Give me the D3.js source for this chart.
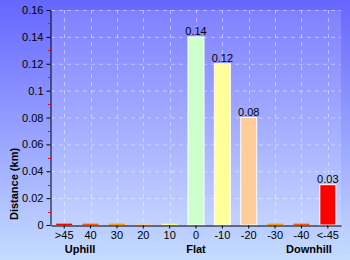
<!DOCTYPE html>
<html><head><meta charset="utf-8">
<script src="https://cdn.jsdelivr.net/npm/d3@7"></script>
<style>html,body{margin:0;padding:0;background:#fff}svg{display:block}</style>
</head><body>
<script>
const categories = [">45","40","30","20","10","0","-10","-20","-30","-40","<-45"];
const values = [0.001,0.001,0.001,0.001,0.001,0.14,0.12,0.08,0.001,0.001,0.03];
const barColors = ["#ff0000","#ff5500","#ff9900","#ffcc99","#ffff99","#ccffcc","#ffff99","#ffcc99","#ff9900","#ff5500","#ff0000"];
const valueLabels = ["","","","","","0.14","0.12","0.08","","","0.03"];
const yTicks = [0,0.02,0.04,0.06,0.08,0.1,0.12,0.14,0.16];
const groupLabels = [{text:"Uphill", x:80},{text:"Flat", x:196},{text:"Downhill", x:309}];

const W=350,H=260, L=51, R=341, T=10, B=225;
const svg=d3.select("body").append("svg").attr("width",W).attr("height",H);
const defs=svg.append("defs");
const g1=defs.append("linearGradient").attr("id","bg").attr("x1",0).attr("y1",0).attr("x2",0).attr("y2",1);
g1.append("stop").attr("offset","0%").attr("stop-color","#6666ff");
g1.append("stop").attr("offset","100%").attr("stop-color","#c6dcff");
svg.append("rect").attr("width",W).attr("height",H).attr("fill","url(#bg)");
svg.append("rect").attr("x",L).attr("y",T).attr("width",R-L).attr("height",B-T).attr("fill","#ffffff").attr("fill-opacity",0.15);

const x=d3.scaleBand().domain(categories).range([L,R]);
const y=d3.scaleLinear().domain([0,0.16]).range([B,T]);

// grid
const grid=svg.append("g").attr("stroke","#ffffff").attr("stroke-opacity",0.45).attr("stroke-dasharray","4,4");
yTicks.forEach(t=>{ if(t>0) grid.append("line").attr("x1",L).attr("x2",R).attr("y1",y(t)+0.5).attr("y2",y(t)+0.5); });
categories.forEach(c=>{ const cx=Math.round(x(c)+x.bandwidth()/2)+0.5; grid.append("line").attr("x1",cx).attr("x2",cx).attr("y1",T).attr("y2",B); });

// bars
const bw=16;
svg.append("g").selectAll("rect").data(categories).join("rect")
 .attr("x",(c)=>x(c)+x.bandwidth()/2-bw/2)
 .attr("y",(c,i)=>y(values[i]))
 .attr("width",bw)
 .attr("height",(c,i)=>Math.max(1.5,B-y(values[i])))
 .attr("fill",(c,i)=>barColors[i])
 .attr("stroke",(c,i)=>values[i]>0.01?"#ffffff":"none")
 .attr("stroke-width",1);

svg.append("g").selectAll("text").data(categories).join("text")
 .attr("x",c=>x(c)+x.bandwidth()/2)
 .attr("y",(c,i)=>y(values[i])-2)
 .attr("text-anchor","middle")
 .attr("font-family","Liberation Sans, Arial, sans-serif").attr("font-size",11).attr("fill","#000")
 .text((c,i)=>valueLabels[i]);

// y axis
const ya=svg.append("g").attr("transform",`translate(${L-0.5},0)`)
 .call(d3.axisLeft(y).tickValues(yTicks).tickSize(4).tickSizeOuter(0).tickFormat(d=>d3.format("")(+d.toFixed(2))));
ya.selectAll("text").attr("font-family","Liberation Sans, Arial, sans-serif").attr("font-size",11).attr("fill","#000");
ya.select(".domain").attr("stroke","#000");
// minor red ticks
const minor=[0.01,0.03,0.05,0.07,0.09,0.11,0.13,0.15];
svg.append("g").selectAll("line").data(minor).join("line")
 .attr("x1",L-3).attr("x2",L-0.5).attr("y1",d=>Math.round(y(d))+0.5).attr("y2",d=>Math.round(y(d))+0.5)
 .attr("stroke","#ff0000");

// x axis
const xa=svg.append("g").attr("transform",`translate(0,${B+0.5})`)
 .call(d3.axisBottom(x).tickSize(3).tickSizeOuter(0).tickPadding(3));
xa.selectAll("text").attr("font-family","Liberation Sans, Arial, sans-serif").attr("font-size",11).attr("fill","#000");
xa.select(".domain").attr("stroke","#000");

svg.append("g").selectAll("text").data(groupLabels).join("text")
 .attr("x",d=>d.x).attr("y",253).attr("text-anchor","middle")
 .attr("font-family","Liberation Sans, Arial, sans-serif").attr("font-size",11).attr("font-weight","bold")
 .attr("fill","#000").text(d=>d.text);

svg.append("text").attr("transform","translate(18,184) rotate(-90)").attr("text-anchor","middle")
 .attr("font-family","Liberation Sans, Arial, sans-serif").attr("font-size",11).attr("font-weight","bold")
 .attr("fill","#000").text("Distance (km)");
</script>
</body></html>
